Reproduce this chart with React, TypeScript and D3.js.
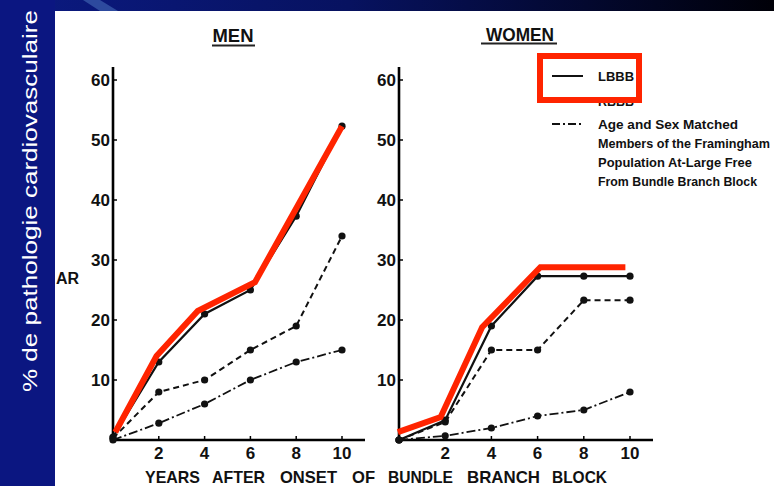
import React from "react";
import * as d3 from "d3";

const years = [0, 2, 4, 6, 8, 10];
const menLBBB = [0.5, 13, 21, 25, 37.3, 52.3];
const menRBBB = [0.3, 8, 10, 15, 19, 34];
const menControl = [0, 2.8, 6, 10, 13, 15];
const womenLBBB = [0, 3.3, 19, 27.3, 27.3, 27.3];
const womenRBBB = [0, 3, 15, 15, 23.3, 23.3];
const womenControl = [0, 0.7, 2, 4, 5, 8];

const menHighlightX = [0.1, 1.9, 3.7, 6.2, 10];
const menHighlightY = [1.3, 14, 21.5, 26.3, 52.3];
const womenHighlightX = [-0.05, 1.8, 3.6, 6.12, 9.8];
const womenHighlightY = [1.3, 3.8, 18.8, 28.8, 28.8];

const yTicks = [10, 20, 30, 40, 50, 60];
const xTicks = [2, 4, 6, 8, 10];

const sideTitle = "% de pathologie cardiovasculaire";
const panelTitles = ["MEN", "WOMEN"];
const xLabelWords = ["YEARS", "AFTER", "ONSET", "OF", "BUNDLE", "BRANCH", "BLOCK"];
const legendLabels = ["LBBB", "RBBB"];
const legendControlLines = [
  "Age and Sex Matched",
  "Members of the Framingham",
  "Population At-Large Free",
  "From Bundle Branch Block",
];

const FONT = "'Liberation Sans', Arial, Helvetica, sans-serif";

type PanelProps = {
  x0: number;
  x10: number;
  axisEnd: number;
  lbbb: number[];
  rbbb: number[];
  control: number[];
  hx: number[];
  hy: number[];
};

function Panel({ x0, x10, axisEnd, lbbb, rbbb, control, hx, hy }: PanelProps) {
  const x = d3.scaleLinear().domain([0, 10]).range([x0, x10]);
  const y = d3.scaleLinear().domain([0, 60]).range([440, 80]);
  const line = d3
    .line<[number, number]>()
    .x((d) => x(d[0]))
    .y((d) => y(d[1]));
  const pts = (vals: number[]) => years.map((yr, i) => [yr, vals[i]] as [number, number]);
  const hpts = hx.map((v, i) => [v, hy[i]] as [number, number]);
  const series = [
    { vals: lbbb, dash: "none", w: 2.2 },
    { vals: rbbb, dash: "6,4", w: 2 },
    { vals: control, dash: "9,3,2,3", w: 1.8 },
  ];
  return (
    <g>
      {/* axes */}
      <line x1={x0} x2={x0} y1={67} y2={441} stroke="#000" strokeWidth={2.6} />
      <line x1={x0 - 1} x2={axisEnd} y1={440} y2={440} stroke="#000" strokeWidth={2.6} />
      {yTicks.map((t) => (
        <g key={"y" + t}>
          <line x1={x0} x2={x0 + 4} y1={y(t)} y2={y(t)} stroke="#000" strokeWidth={1.5} />
          <text
            x={x0 - 3}
            y={y(t) + 6}
            textAnchor="end"
            fontFamily={FONT}
            fontWeight="bold"
            fontSize={17}
            fill="#111"
          >
            {t}
          </text>
        </g>
      ))}
      {xTicks.map((t) => (
        <g key={"x" + t}>
          <line x1={x(t)} x2={x(t)} y1={440} y2={436} stroke="#000" strokeWidth={1.5} />
          <text
            x={x(t)}
            y={459}
            textAnchor="middle"
            fontFamily={FONT}
            fontWeight="bold"
            fontSize={17}
            fill="#111"
          >
            {t}
          </text>
        </g>
      ))}
      {series.map((s, i) => (
        <g key={"s" + i}>
          <path
            d={line(pts(s.vals)) || ""}
            fill="none"
            stroke="#111"
            strokeWidth={s.w}
            strokeDasharray={s.dash}
          />
          {pts(s.vals).map((p, j) => (
            <circle key={j} cx={x(p[0])} cy={y(p[1])} r={3.6} fill="#111" />
          ))}
        </g>
      ))}
      <path
        d={line(hpts) || ""}
        fill="none"
        stroke="#ff2400"
        strokeWidth={6}
        strokeLinejoin="miter"
      />
    </g>
  );
}

export default function App() {
  const xWordPos: [number, number][] = [
    [145, 200],
    [212, 265],
    [280, 337],
    [352, 375],
    [388, 453],
    [467, 540],
    [552, 607],
  ];
  return (
    <svg
      width={774}
      height={486}
      style={{ position: "absolute", left: 0, top: 0, display: "block" }}
    >
      <defs>
        <linearGradient id="topband" x1="0" x2="1" y1="0" y2="0">
          <stop offset="0" stopColor="#0b1a82" />
          <stop offset="0.45" stopColor="#071260" />
          <stop offset="1" stopColor="#000008" />
        </linearGradient>
      </defs>
      <rect x={0} y={0} width={774} height={486} fill="#ffffff" />
      <rect x={0} y={0} width={774} height={11} fill="url(#topband)" />
      <polygon points="83,0 100,0 118,11 100,11" fill="#2d4a9e" />
      <rect x={0} y={0} width={55} height={486} fill="#0b1681" />
      <text
        transform="translate(37,392) rotate(-90)"
        fontFamily={FONT}
        fontSize={21}
        fill="#ffffff"
        textLength={382}
        lengthAdjust="spacingAndGlyphs"
      >
        {sideTitle}
      </text>

      {/* titles */}
      <text x={233} y={42} textAnchor="middle" fontFamily={FONT} fontWeight="bold" fontSize={18} fill="#111" textLength={41} lengthAdjust="spacingAndGlyphs">
        {panelTitles[0]}
      </text>
      <line x1={212} x2={255} y1={45.5} y2={45.5} stroke="#222" strokeWidth={2} />
      <text x={520} y={41} textAnchor="middle" fontFamily={FONT} fontWeight="bold" fontSize={18} fill="#111" textLength={68} lengthAdjust="spacingAndGlyphs">
        {panelTitles[1]}
      </text>
      <line x1={481} x2={557} y1={43.5} y2={43.5} stroke="#222" strokeWidth={2} />

      <text x={56} y={284} fontFamily={FONT} fontWeight="bold" fontSize={16} fill="#111">
        AR
      </text>

      <Panel
        x0={113}
        x10={342}
        axisEnd={365}
        lbbb={menLBBB}
        rbbb={menRBBB}
        control={menControl}
        hx={menHighlightX}
        hy={menHighlightY}
      />
      <Panel
        x0={399}
        x10={630}
        axisEnd={653}
        lbbb={womenLBBB}
        rbbb={womenRBBB}
        control={womenControl}
        hx={womenHighlightX}
        hy={womenHighlightY}
      />

      {/* x label */}
      {xLabelWords.map((w, i) => (
        <text
          key={w}
          x={xWordPos[i][0]}
          y={483}
          fontFamily={FONT}
          fontWeight="bold"
          fontSize={17}
          fill="#111"
          textLength={xWordPos[i][1] - xWordPos[i][0]}
          lengthAdjust="spacingAndGlyphs"
        >
          {w}
        </text>
      ))}

      {/* legend */}
      <line x1={552} x2={583} y1={76} y2={76} stroke="#111" strokeWidth={2} />
      <text x={598} y={81} fontFamily={FONT} fontWeight="bold" fontSize={13} fill="#111" textLength={36} lengthAdjust="spacingAndGlyphs">
        {legendLabels[0]}
      </text>
      <line x1={552} x2={583} y1={99} y2={99} stroke="#111" strokeWidth={2} strokeDasharray="6,4" />
      <text x={598} y={106} fontFamily={FONT} fontWeight="bold" fontSize={13} fill="#111" textLength={36} lengthAdjust="spacingAndGlyphs">
        {legendLabels[1]}
      </text>
      <line x1={552} x2={583} y1={124} y2={124} stroke="#111" strokeWidth={1.8} strokeDasharray="8,3,2,3" />
      {legendControlLines.map((t, i) => (
        <text
          key={t}
          x={598}
          y={129 + i * 19}
          fontFamily={FONT}
          fontWeight="bold"
          fontSize={12.5}
          fill="#111"
          textLength={[140, 172, 154, 159][i]}
          lengthAdjust="spacingAndGlyphs"
        >
          {t}
        </text>
      ))}
      <rect x={540} y={56} width={99} height={44} fill="none" stroke="#ff2400" strokeWidth={6} />
    </svg>
  );
}
